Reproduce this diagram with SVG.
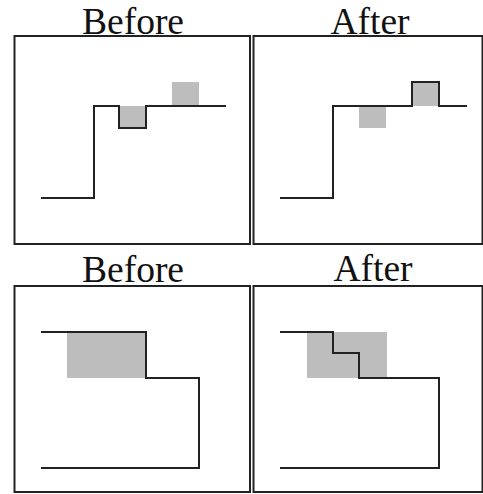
<svg xmlns="http://www.w3.org/2000/svg" width="483" height="494" viewBox="0 0 483 494">
<style>
.frame{fill:none;stroke:#222;stroke-width:2}
.line{fill:none;stroke:#222;stroke-width:2;stroke-linejoin:miter}
.shade{fill:#bdbdbd}
.title{font-family:"Liberation Serif",serif;font-size:37.5px;fill:#111;text-anchor:middle}
</style>
<rect width="483" height="494" fill="#fff"/>
<g id="panel-top-before">
<text class="title" x="133" y="33.8">Before</text>
<rect class="frame" x="14.5" y="36" width="235.5" height="208"/>
<rect class="shade" x="119" y="106" width="27" height="22"/>
<rect class="shade" x="172" y="82" width="27" height="24"/>
<path class="line" d="M41 198H94V106H119V128H146V106H226"/>
</g>
<g id="panel-top-after">
<text class="title" x="370" y="33.8">After</text>
<rect class="frame" x="253.5" y="36" width="229" height="208"/>
<rect class="shade" x="359" y="106" width="27" height="22"/>
<rect class="shade" x="412" y="82" width="27" height="24"/>
<path class="line" d="M280 198H333V106H412V82H439V106H467"/>
</g>
<g id="panel-bottom-before">
<text class="title" x="133" y="282">Before</text>
<rect class="frame" x="14.5" y="286" width="235.5" height="206"/>
<rect class="shade" x="67" y="332" width="79" height="46"/>
<path class="line" d="M41 332H146V378H199V468H41"/>
</g>
<g id="panel-bottom-after">
<text class="title" x="373" y="281">After</text>
<rect class="frame" x="253.5" y="286" width="229" height="206"/>
<rect class="shade" x="307" y="332" width="80" height="46"/>
<path class="line" d="M280 332H333V353H359V378H439V468H280"/>
</g>
</svg>
